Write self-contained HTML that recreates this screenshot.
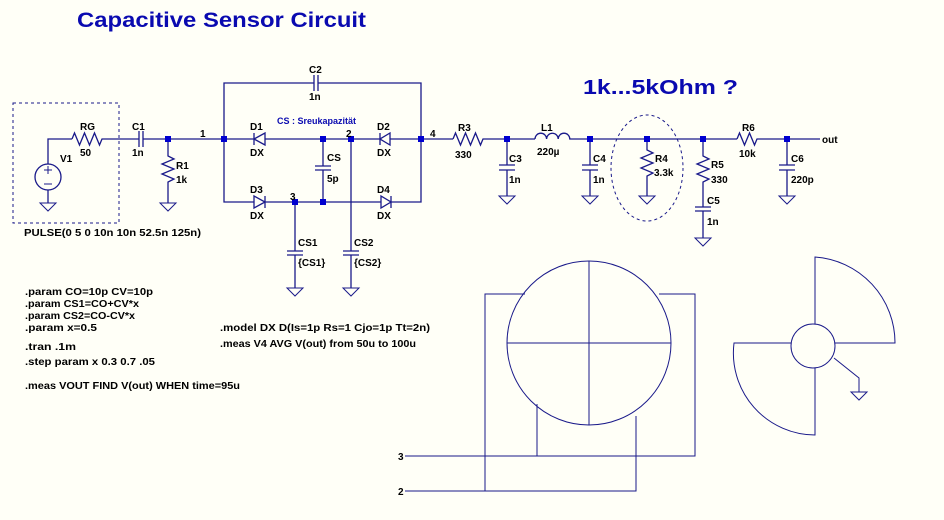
<!DOCTYPE html>
<html><head><meta charset="utf-8"><style>
html,body{margin:0;padding:0;background:#fffff7;}
svg{display:block}
text{font-family:"Liberation Sans",sans-serif;font-weight:bold;font-size:10px;fill:#000;}
.w{stroke:#1a1a8a;stroke-width:1.3;fill:none}
.t{stroke:#1a1a8a;stroke-width:1;fill:none}
.n{fill:#0000d0}
</style></head><body>
<svg width="944" height="520" viewBox="0 0 944 520">
<rect width="944" height="520" fill="#fffff7"/>
<text x="77" y="27" style="font-size:21px;fill:#0a0ab0" textLength="289" lengthAdjust="spacingAndGlyphs">Capacitive Sensor Circuit</text>
<text x="583" y="94" style="font-size:20px;fill:#0a0ab0" textLength="155" lengthAdjust="spacingAndGlyphs">1k...5kOhm ?</text>

<!-- dashed box -->
<rect x="13" y="103" width="106" height="120" fill="none" stroke="#1a1a8a" stroke-dasharray="3,3"/>
<!-- V1 -->
<g class="w">
<circle cx="48" cy="177" r="13"/>
<path d="M48,164 V139 H72 M48,190 V203"/>
<path d="M44,170 h8 M48,166 v8 M44,184 h8" class="t"/>
<path d="M72,139 l2.5,-6 l5,12 l5,-12 l5,12 l5,-12 l5,12 l2.5,-6 H139 M143,139 H224"/>
<path d="M139,131 v16 M143,131 v16"/>
<!-- R1 -->
<path d="M168,139 V156 l6,3 l-12,5 l12,5 l-12,5 l12,5 l-6,3 V203"/>
<!-- rails -->
<path d="M224,139 V83 H314 M318,83 H421 V202 H390 M224,139 V202 H254 M265,202 H381"/>
<path d="M314,75 v16 M318,75 v16"/>
<path d="M224,139 H254 M265,139 H381 M390,139 H453"/>
<!-- diodes -->
<path d="M265,133 L265,145 L254,139 Z M254,133 v12"/>
<path d="M390,133 L390,145 L380,139 Z M380,133 v12"/>
<path d="M254,196 L254,208 L265,202 Z M265,196 v12"/>
<path d="M381,196 L381,208 L391,202 Z M391,196 v12"/>
<!-- CS -->
<path d="M323,139 V166 M323,170 V202 M315,166 h16 M315,170 h16"/>
<!-- CS1 CS2 -->
<path d="M295,202 V251 M295,255 V288 M287,251 h16 M287,255 h16"/>
<path d="M351,139 V251 M351,255 V288 M343,251 h16 M343,255 h16"/>
<!-- right part -->
<path d="M453,139 l2.5,-6 l5,12 l5,-12 l5,12 l5,-12 l5,12 l2.5,-6 H535"/>
<path d="M535,139 a5.8,5.8 0 0 1 11.6,0 a5.8,5.8 0 0 1 11.6,0 a5.8,5.8 0 0 1 11.6,0 H737"/>
<path d="M737,139 l2.5,-6 l5,12 l5,-12 l5,12 l2.5,-6 H820"/>
<path d="M507,139 V165 M507,170 V196 M499,165 h16 M499,170 h16"/>
<path d="M590,139 V165 M590,170 V196 M582,165 h16 M582,170 h16"/>
<path d="M787,139 V165 M787,170 V196 M779,165 h16 M779,170 h16"/>
<path d="M647,139 V150 l6,3 l-12,5 l12,5 l-12,5 l12,5 l-6,3 V196"/>
<path d="M703,139 V156 l6,3 l-12,5 l12,5 l-12,5 l12,5 l-6,3 V207 M703,211 V238 M695,207 h16 M695,211 h16"/>
</g>
<ellipse cx="647" cy="168" rx="36" ry="53" fill="none" stroke="#1a1a8a" stroke-dasharray="3,3"/>
<!-- grounds -->
<g class="t">
<path d="M40,203 h16 l-8,8 z"/>
<path d="M160,203 h16 l-8,8 z"/>
<path d="M287,288 h16 l-8,8 z"/>
<path d="M343,288 h16 l-8,8 z"/>
<path d="M499,196 h16 l-8,8 z"/>
<path d="M582,196 h16 l-8,8 z"/>
<path d="M639,196 h16 l-8,8 z"/>
<path d="M779,196 h16 l-8,8 z"/>
<path d="M695,238 h16 l-8,8 z"/>
<path d="M851,392 h16 l-8,8 z"/>
</g>
<!-- nodes -->
<g class="n">
<rect x="165" y="136" width="6" height="6"/><rect x="221" y="136" width="6" height="6"/>
<rect x="320" y="136" width="6" height="6"/><rect x="348" y="136" width="6" height="6"/>
<rect x="418" y="136" width="6" height="6"/><rect x="292" y="199" width="6" height="6"/>
<rect x="320" y="199" width="6" height="6"/><rect x="504" y="136" width="6" height="6"/>
<rect x="587" y="136" width="6" height="6"/><rect x="644" y="136" width="6" height="6"/>
<rect x="700" y="136" width="6" height="6"/><rect x="784" y="136" width="6" height="6"/>
</g>
<!-- labels -->
<text x="80" y="130">RG</text><text x="80" y="156">50</text>
<text x="60" y="162">V1</text>
<text x="132" y="130">C1</text><text x="132" y="156">1n</text>
<text x="176" y="169">R1</text><text x="176" y="183">1k</text>
<text x="200" y="137">1</text>
<text x="309" y="73">C2</text><text x="309" y="100">1n</text>
<text x="250" y="130">D1</text><text x="250" y="156">DX</text>
<text x="377" y="130">D2</text><text x="377" y="156">DX</text>
<text x="250" y="193">D3</text><text x="250" y="219">DX</text>
<text x="377" y="193">D4</text><text x="377" y="219">DX</text>
<text x="277" y="124" style="font-size:9px;fill:#0a0ab0">CS : Sreukapazität</text>
<text x="346" y="137">2</text><text x="430" y="137">4</text><text x="290" y="200">3</text>
<text x="327" y="161">CS</text><text x="327" y="182">5p</text>
<text x="298" y="246">CS1</text><text x="298" y="266">{CS1}</text>
<text x="354" y="246">CS2</text><text x="354" y="266">{CS2}</text>
<text x="24" y="236" textLength="177" lengthAdjust="spacingAndGlyphs">PULSE(0 5 0 10n 10n 52.5n 125n)</text>
<text x="458" y="131">R3</text><text x="455" y="158">330</text>
<text x="541" y="131">L1</text><text x="537" y="155">220µ</text>
<text x="509" y="162">C3</text><text x="509" y="183">1n</text>
<text x="593" y="162">C4</text><text x="593" y="183">1n</text>
<text x="655" y="162">R4</text><text x="654" y="176">3.3k</text>
<text x="711" y="168">R5</text><text x="711" y="183">330</text>
<text x="707" y="204">C5</text><text x="707" y="225">1n</text>
<text x="742" y="131">R6</text><text x="739" y="157">10k</text>
<text x="791" y="162">C6</text><text x="791" y="183">220p</text>
<text x="822" y="143">out</text>
<text x="25" y="295" textLength="128" lengthAdjust="spacingAndGlyphs">.param CO=10p CV=10p</text>
<text x="25" y="307" textLength="114" lengthAdjust="spacingAndGlyphs">.param CS1=CO+CV*x</text>
<text x="25" y="319" textLength="110" lengthAdjust="spacingAndGlyphs">.param CS2=CO-CV*x</text>
<text x="25" y="331" textLength="72" lengthAdjust="spacingAndGlyphs">.param x=0.5</text>
<text x="25" y="350" textLength="51" lengthAdjust="spacingAndGlyphs">.tran .1m</text>
<text x="25" y="365" textLength="130" lengthAdjust="spacingAndGlyphs">.step param x 0.3 0.7 .05</text>
<text x="25" y="389" textLength="215" lengthAdjust="spacingAndGlyphs">.meas VOUT FIND V(out) WHEN time=95u</text>
<text x="220" y="331" textLength="210" lengthAdjust="spacingAndGlyphs">.model DX D(Is=1p Rs=1 Cjo=1p Tt=2n)</text>
<text x="220" y="347" textLength="196" lengthAdjust="spacingAndGlyphs">.meas V4 AVG V(out) from 50u to 100u</text>
<!-- bottom drawing -->
<g class="t">
<circle cx="589" cy="343" r="82"/>
<path d="M589,261 V425 M507,343 H671"/>
<path d="M525,294 H485 V491 M659,294 H695 V456 H405 M537,404 V456 M636,416 V491 H405"/>
<circle cx="813" cy="346" r="22"/>
<path d="M815,324 V257 A86,86 0 0 1 895,343 H835"/>
<path d="M791,343 H734 A82,82 0 0 0 815,435 V368"/>
<path d="M834,358 L859,378 V392"/>
</g>
<text x="398" y="460">3</text><text x="398" y="495">2</text>
</svg>
</body></html>
